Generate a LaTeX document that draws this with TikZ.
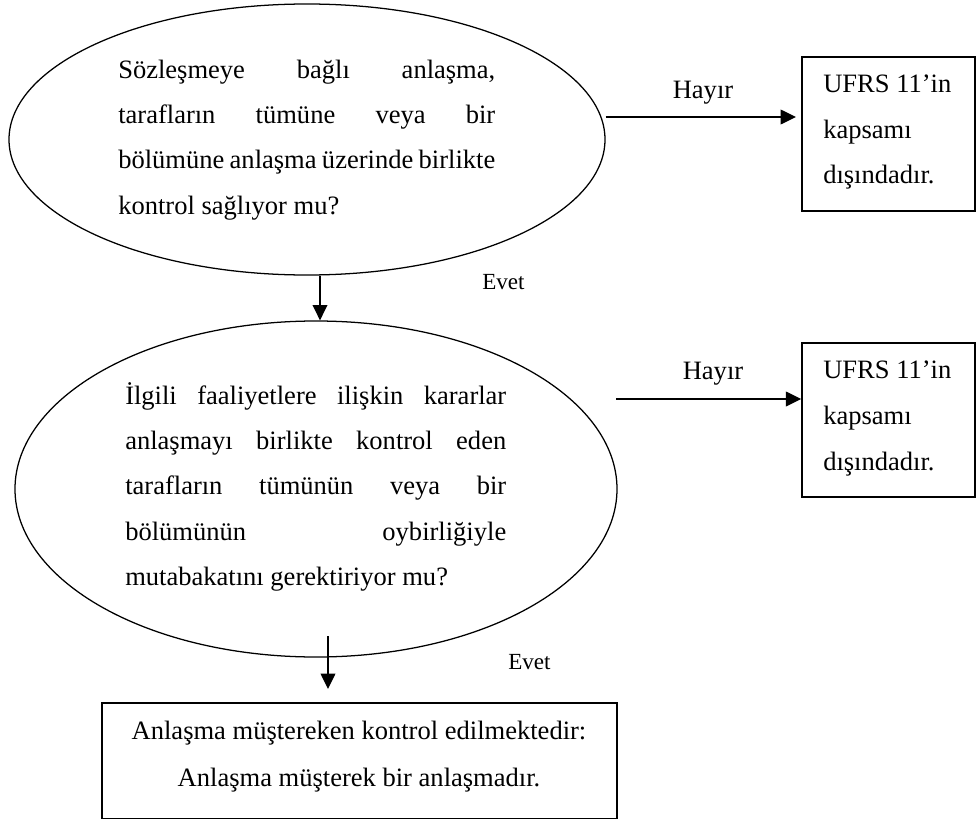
\documentclass[tikz,border=0pt]{standalone}
\usepackage{fontspec}
\setmainfont{Liberation Serif}
\usetikzlibrary{arrows.meta,shapes.geometric}

% one line stretched to the full width of its block
\newcommand\jline[1]{\makebox[\linewidth][s]{#1}\par}

\tikzset{
  bubble/.style={draw, ellipse, line width=0.95pt, inner sep=0pt},
  outbox/.style={draw, rectangle, line width=1.1pt, inner sep=0pt},
  flow/.style={line width=1.1pt, -{Triangle[length=11.5pt,width=11pt]}},
  body/.style={inner sep=0pt, anchor=base west, font=\fontsize{19.9pt}{34.1pt}\selectfont},
  boxtext/.style={inner sep=0pt, anchor=base west, font=\fontsize{19.9pt}{34.5pt}\selectfont},
  tag/.style={inner sep=0pt, anchor=base, font=\fontsize{19.9pt}{24pt}\selectfont},
  small/.style={inner sep=0pt, anchor=base west, font=\fontsize{17.3pt}{20pt}\selectfont},
}

\begin{document}
\begin{tikzpicture}[x=0.75pt,y=-0.75pt]
\useasboundingbox (0,0) rectangle (976,821);

% first question
\node[bubble, minimum width=447pt, minimum height=203.25pt] (e1) at (307,139.5) {};
\node[body] (t1) at (118,78) {\parbox[t]{282.75pt}{%
  \jline{Sözleşmeye bağlı anlaşma,}
  \jline{tarafların tümüne veya bir}
  \jline{bölümüne anlaşma üzerinde birlikte}
  kontrol sağlıyor mu?}};

% second question
\node[bubble, minimum width=451.5pt, minimum height=252pt] (e2) at (316,489) {};
\node[body] (t2) at (125,404) {\parbox[t]{285.75pt}{%
  \jline{İlgili faaliyetlere ilişkin kararlar}
  \jline{anlaşmayı birlikte kontrol eden}
  \jline{tarafların tümünün veya bir}
  \jline{bölümünün oybirliğiyle}
  mutabakatını gerektiriyor mu?}};

% "no" outcomes
\node[outbox, minimum width=129.75pt, minimum height=115.5pt] (b1) at (888.5,134) {};
\node[boxtext] (u1) at (823,92) {\parbox[t]{120pt}{UFRS 11’in\par kapsamı\par dışındadır.}};
\node[outbox, minimum width=129.75pt, minimum height=115.5pt] (b2) at (888.5,420) {};
\node[boxtext] (u2) at (823,378) {\parbox[t]{120pt}{UFRS 11’in\par kapsamı\par dışındadır.}};

% final outcome
\node[outbox, minimum width=386.25pt, minimum height=86.6pt] (b3) at (359.5,760.75) {};
\node[inner sep=0pt, anchor=base, font=\fontsize{19.9pt}{35.25pt}\selectfont] (r) at (359,739)
  {\parbox[t]{400pt}{\centering Anlaşma müştereken kontrol edilmektedir:\par Anlaşma müşterek bir anlaşmadır.}};

% connectors
\coordinate (x1) at (320,0);
\draw[flow] (e1.south -| x1) -- (e2.north -| x1);

\coordinate (h1e) at (796,117);
\draw[flow] (e1.east |- h1e) -- (h1e);

\coordinate (h2s) at (616,399);
\draw[flow] (h2s) -- (h2s -| b2.west);

\coordinate (v2s) at (328,636);
\coordinate (v2e) at (328,689);
\draw[flow] (v2s) -- (v2e);

% labels
\node[tag] (n1) at (703,98) {Hayır};
\node[tag] (n2) at (713,379) {Hayır};
\node[small] (y1) at (482,289) {Evet};
\node[small] (y2) at (508,669) {Evet};
\end{tikzpicture}
\end{document}
